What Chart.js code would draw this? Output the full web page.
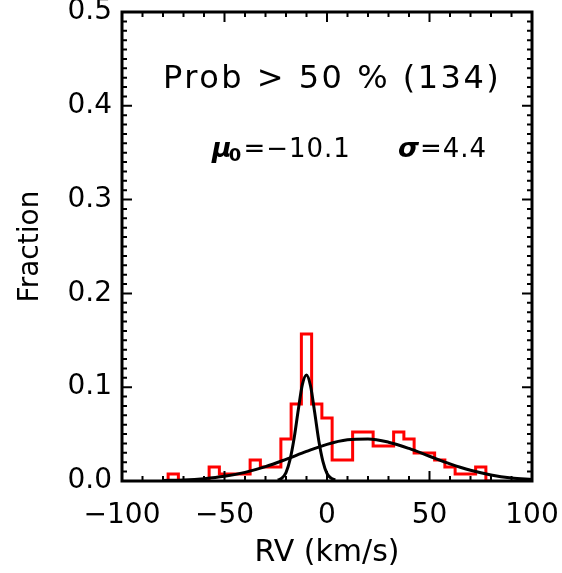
<!DOCTYPE html>
<html>
<head>
<meta charset="utf-8">
<script src="https://cdn.jsdelivr.net/npm/chart.js@4"></script>
<style>
  html, body { margin: 0; padding: 0; background: #fff; }
  canvas { display: block; }
</style>
</head>
<body>
<canvas id="rvChart" width="562" height="573"></canvas>
<script>
// histogram of RV, bin width 5 km/s (fraction of 134 stars)
const binCenters = [-80, -75, -70, -65, -60, -55, -50, -45, -40, -35, -30, -25, -20, -15, -10, -5,
  0, 5, 10, 15, 20, 25, 30, 35, 40, 45, 50, 55, 60, 65, 70, 75, 80];
const binFractions = [0, 0.0075, 0, 0, 0, 0.0149, 0.0075, 0.0075, 0.0075, 0.0224, 0.0149, 0.0149, 0.0448, 0.0821, 0.1567, 0.0821,
  0.0672, 0.0224, 0.0224, 0.0522, 0.0522, 0.0373, 0.0373, 0.0522, 0.0448, 0.0299, 0.0299, 0.0224, 0.0149, 0.0075, 0.0075, 0.0149, 0];

// narrow gaussian (cluster)
const narrowX = [-24, -22, -20, -18, -16, -14, -12, -10, -8, -6, -4, -2, 0, 2, 4];
const narrowY = [0.001, 0.003, 0.009, 0.023, 0.046, 0.076, 0.103, 0.113, 0.101, 0.073, 0.043, 0.021, 0.008, 0.003, 0.001];

// broad gaussian (field)
const broadX = [-80, -70, -60, -50, -40, -30, -20, -10, 0, 10, 20, 30, 40, 50, 60, 70, 80, 90, 100];
const broadY = [0.0005, 0.0011, 0.0025, 0.005, 0.0092, 0.0153, 0.0231, 0.0315, 0.0391, 0.0439, 0.0448, 0.0414,
  0.0347, 0.0264, 0.0182, 0.0114, 0.0065, 0.0033, 0.0016];

const xTicks = [-100, -50, 0, 50, 100];
const yTicks = [0, 0.1, 0.2, 0.3, 0.4, 0.5];
const titleText = 'Prob > 50 % (134)';
const muText = '=\u221210.1';
const sigmaText = '=4.4';

Chart.defaults.font.family = 'DejaVu Sans';
Chart.defaults.color = '#000';

const toXY = (xs, ys) => xs.map((v, i) => ({ x: v, y: ys[i] }));

const frame = {
  id: 'frame',
  afterDatasetsDraw(chart) {
    const { ctx, chartArea: a, scales: { x, y } } = chart;
    ctx.save();
    ctx.strokeStyle = '#000';
    ctx.lineWidth = 2;
    ctx.beginPath();
    for (let v = -100; v <= 100; v += 10) {
      const px = x.getPixelForValue(v);
      const len = v % 50 === 0 ? 10 : 5;
      ctx.moveTo(px, a.bottom); ctx.lineTo(px, a.bottom - len);
      ctx.moveTo(px, a.top); ctx.lineTo(px, a.top + len);
    }
    for (let i = 0; i <= 50; i++) {
      const py = y.getPixelForValue(i / 100);
      const len = i % 10 === 0 ? 10 : 5;
      ctx.moveTo(a.left, py); ctx.lineTo(a.left + len, py);
      ctx.moveTo(a.right, py); ctx.lineTo(a.right - len, py);
    }
    ctx.stroke();
    ctx.lineWidth = 3;
    ctx.strokeRect(a.left, a.top, a.right - a.left, a.bottom - a.top);
    ctx.restore();
  },
  afterDraw(chart) {
    const ctx = chart.ctx;
    ctx.save();
    ctx.fillStyle = '#000';
    ctx.textBaseline = 'alphabetic';
    ctx.font = '32px "DejaVu Sans"';
    ctx.letterSpacing = '2.5px';
    ctx.fillText(titleText, 163, 88);

    ctx.letterSpacing = '1px';
    let cx = 212;
    ctx.font = 'italic bold 27px "DejaVu Sans"';
    ctx.fillText('\u03bc', cx, 157);
    cx += ctx.measureText('\u03bc').width - 4;
    ctx.font = 'bold 18px "DejaVu Sans"';
    ctx.fillText('0', cx, 161);
    cx += ctx.measureText('0').width + 1;
    ctx.font = '26px "DejaVu Sans"';
    ctx.fillText(muText, cx, 157);

    cx = 398;
    ctx.font = 'italic bold 27px "DejaVu Sans"';
    ctx.fillText('\u03c3', cx, 157);
    cx += ctx.measureText('\u03c3').width;
    ctx.font = '26px "DejaVu Sans"';
    ctx.fillText(sigmaText, cx, 157);
    ctx.restore();
  }
};

new Chart(document.getElementById('rvChart'), {
  type: 'line',
  data: {
    datasets: [
      {
        data: toXY(narrowX, narrowY),
        borderColor: '#000',
        borderWidth: 3,
        pointRadius: 0,
        cubicInterpolationMode: 'monotone',
        fill: false
      },
      {
        data: toXY(broadX, broadY),
        borderColor: '#000',
        borderWidth: 3,
        pointRadius: 0,
        cubicInterpolationMode: 'monotone',
        fill: false
      },
      {
        data: toXY(binCenters, binFractions),
        borderColor: '#ff0000',
        borderWidth: 3,
        pointRadius: 0,
        stepped: 'middle',
        fill: false
      }
    ]
  },
  options: {
    responsive: false,
    animation: false,
    devicePixelRatio: 1,
    layout: { padding: { top: 12, right: 30, left: 0, bottom: 0 } },
    plugins: { legend: { display: false }, tooltip: { enabled: false } },
    scales: {
      x: {
        type: 'linear',
        min: -100,
        max: 100,
        grid: { display: false, drawTicks: false },
        border: { display: false },
        afterBuildTicks: s => { s.ticks = xTicks.map(v => ({ value: v })); },
        afterFit: s => { s.height = 92; s.paddingLeft = 0; s.paddingRight = 0; },
        ticks: {
          padding: 18,
          maxRotation: 0,
          font: { size: 28 },
          callback: v => String(v).replace('-', '\u2212')
        },
        title: { display: true, text: 'RV (km/s)', font: { size: 30 }, padding: { top: 0, bottom: 2 } }
      },
      y: {
        min: 0,
        max: 0.5,
        grid: { display: false, drawTicks: false },
        border: { display: false },
        afterBuildTicks: s => { s.ticks = yTicks.map(v => ({ value: v })); },
        afterFit: s => { s.width = 122; s.paddingTop = 0; s.paddingBottom = 0; },
        ticks: {
          padding: 10,
          font: { size: 28 },
          callback: v => v.toFixed(1)
        },
        title: { display: true, text: 'Fraction', font: { size: 28 }, padding: { top: 14, bottom: 0 } }
      }
    }
  },
  plugins: [frame]
});
</script>
</body>
</html>
